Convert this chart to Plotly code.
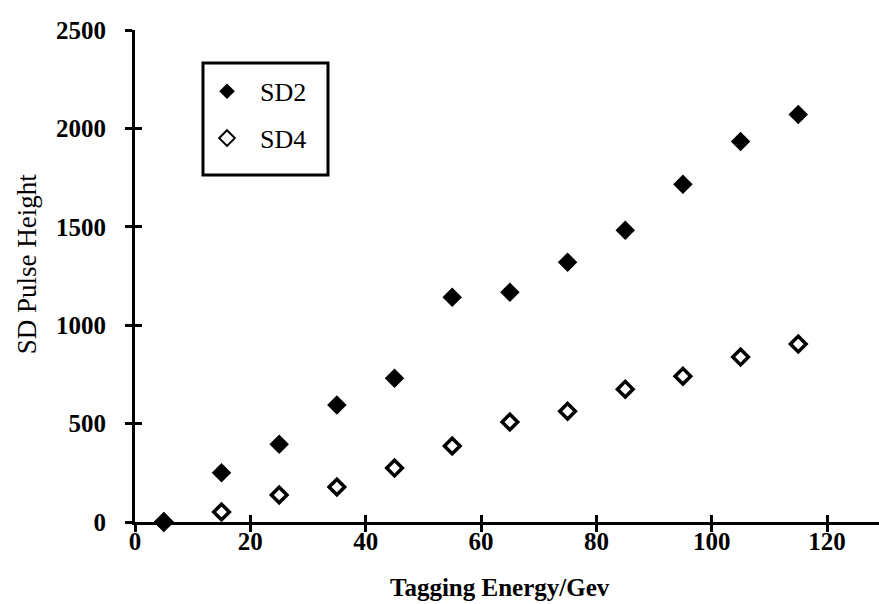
import plotly.graph_objects as go

# Tagging energy bins (GeV) and mean pulse heights per detector
energy = [5, 15, 25, 35, 45, 55, 65, 75, 85, 95, 105, 115]
sd2 = [0, 250, 395, 595, 730, 1142, 1168, 1320, 1482, 1716, 1934, 2071]
sd4 = [0, 51, 137, 178, 274, 386, 508, 563, 675, 741, 838, 904]

x_ticks = [0, 20, 40, 60, 80, 100, 120]
y_ticks = [0, 500, 1000, 1500, 2000, 2500]
x_range = [0, 129]
y_range = [0, 2500]

SERIF = "Liberation Serif"
NBSP = "\u00a0"

fig = go.Figure()
fig.add_trace(go.Scatter(
    x=energy, y=sd2, mode="markers", name=NBSP * 2 + "SD2", legendgroup="a",
    marker=dict(symbol="diamond", size=15, color="black",
                line=dict(width=0)),
    cliponaxis=False,
))
fig.add_trace(go.Scatter(
    x=energy, y=sd4, mode="markers", name=NBSP * 2 + "SD4", legendgroup="b",
    marker=dict(symbol="diamond-open", size=12, color="black",
                line=dict(width=3.5, color="black")),
    cliponaxis=False,
))
# empty trace to carry the overlay axes that draw the inner tick halves
fig.add_trace(go.Scatter(x=[], y=[], xaxis="x2", yaxis="y2",
                         showlegend=False, hoverinfo="skip"))

axis_common = dict(showgrid=False, zeroline=False, showline=True,
                   linecolor="black", linewidth=3, tickcolor="black",
                   tickwidth=3, ticklen=7)

fig.update_layout(
    width=879, height=604,
    margin=dict(l=135, r=0, t=30, b=82),
    paper_bgcolor="white", plot_bgcolor="white",
    font=dict(family=SERIF, color="black"),
    xaxis=dict(range=x_range, tickvals=x_ticks, ticks="outside",
               tickfont=dict(family=SERIF, size=25, weight="bold"),
               ticklabelstandoff=-12, **axis_common),
    yaxis=dict(range=y_range, tickvals=y_ticks, ticks="outside",
               tickfont=dict(family=SERIF, size=25, weight="bold"),
               ticklabelstandoff=14, **axis_common),
    xaxis2=dict(range=x_range, tickvals=x_ticks, ticks="inside",
                overlaying="x", anchor="y2", showticklabels=False,
                **axis_common),
    yaxis2=dict(range=y_range, tickvals=y_ticks, ticks="inside",
                overlaying="y", anchor="x2", showticklabels=False,
                **axis_common),
    showlegend=True,
    legend=dict(x=0.0968, y=0.923, xanchor="left", yanchor="top",
                bgcolor="rgba(0,0,0,0)", borderwidth=0,
                font=dict(family=SERIF, size=26, color="black"),
                traceorder="grouped", tracegroupgap=10,
                itemsizing="constant"),
    # frame around the legend entries
    shapes=[dict(type="rect", xref="paper", yref="paper",
                 x0=0.0914, x1=0.2594, y0=0.7053, y1=0.933,
                 line=dict(color="black", width=3),
                 fillcolor="white", layer="below")],
    annotations=[
        dict(text="Tagging Energy/Gev", xref="paper", yref="paper",
             x=0.49, y=-0.134, xanchor="center", yanchor="middle",
             showarrow=False,
             font=dict(family=SERIF, size=25, weight="bold")),
        dict(text="SD Pulse Height", xref="paper", yref="paper",
             x=-0.145, y=0.524, xanchor="center", yanchor="middle",
             showarrow=False, textangle=-90,
             font=dict(family=SERIF, size=27)),
    ],
)

fig.write_html("out.html")
